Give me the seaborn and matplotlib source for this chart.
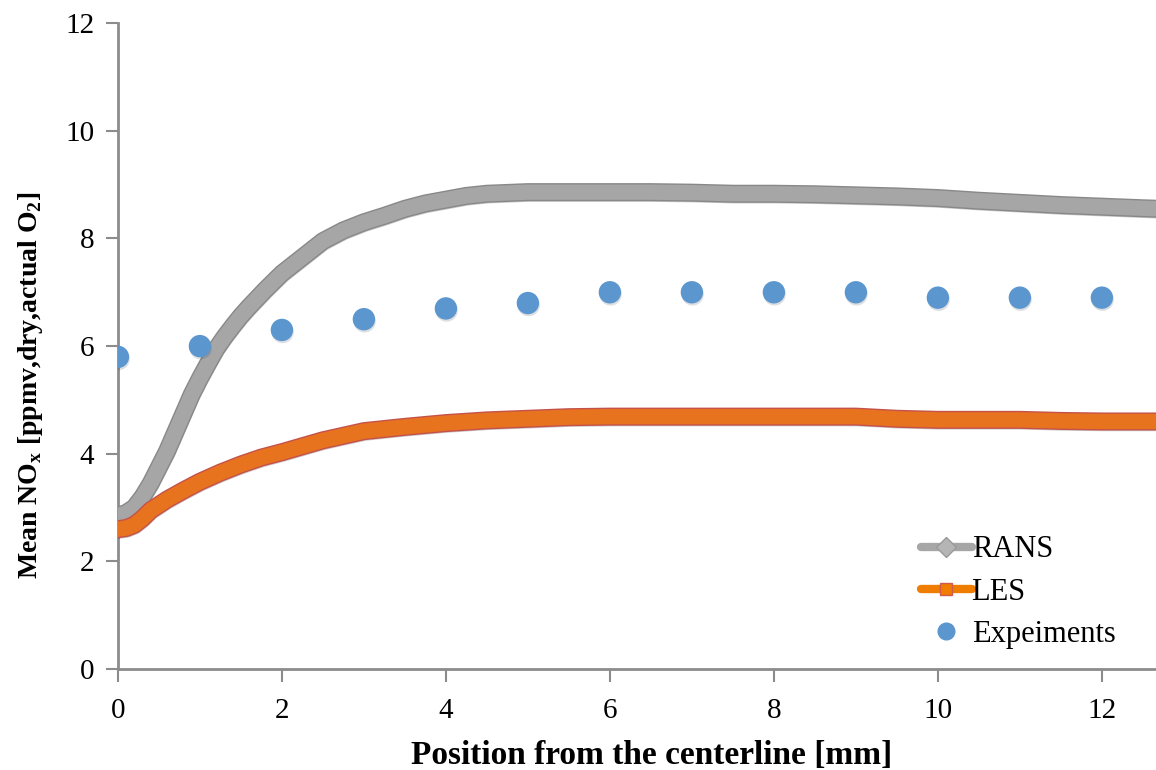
import matplotlib
matplotlib.use("Agg")
import matplotlib.pyplot as plt
import matplotlib.patheffects as pe
from matplotlib.lines import Line2D
import seaborn as sns
import pandas as pd

# RANS profile
rans_x = [0, 0.1, 0.2, 0.3, 0.4, 0.5, 0.6, 0.7, 0.8, 0.9, 1.0, 1.1, 1.2, 1.3,
          1.4, 1.5, 1.6, 1.8, 2.0, 2.25, 2.5, 2.75, 3.0, 3.25, 3.5, 3.75, 4.0,
          4.25, 4.5, 5.0, 5.5, 6.0, 6.5, 7.0, 7.5, 8.0, 8.5, 9.0, 9.5, 10.0,
          10.5, 11.0, 11.5, 12.0, 12.5, 12.7]
rans_y = [2.85, 2.9, 3.0, 3.2, 3.45, 3.75, 4.05, 4.4, 4.75, 5.1, 5.4, 5.68,
          5.95, 6.17, 6.37, 6.56, 6.73, 7.05, 7.35, 7.65, 7.95, 8.15, 8.3,
          8.42, 8.55, 8.65, 8.72, 8.79, 8.83, 8.86, 8.86, 8.86, 8.86, 8.85,
          8.83, 8.83, 8.82, 8.8, 8.78, 8.75, 8.7, 8.66, 8.62, 8.59, 8.56, 8.55]

# LES profile
les_x = [0, 0.1, 0.2, 0.3, 0.4, 0.6, 0.8, 1.0, 1.25, 1.5, 1.75, 2.0, 2.5, 3.0,
         3.5, 4.0, 4.5, 5.0, 5.5, 6.0, 6.5, 7.0, 7.5, 8.0, 8.5, 9.0, 9.5, 10.0,
         10.5, 11.0, 11.5, 12.0, 12.5, 12.7]
les_y = [2.6, 2.62, 2.68, 2.8, 2.95, 3.15, 3.32, 3.48, 3.65, 3.8, 3.93, 4.03,
         4.25, 4.42, 4.5, 4.57, 4.62, 4.65, 4.68, 4.69, 4.69, 4.69, 4.69, 4.69,
         4.69, 4.69, 4.65, 4.63, 4.63, 4.63, 4.61, 4.6, 4.6, 4.6]

# experimental points
exp_x = [0, 1, 2, 3, 4, 5, 6, 7, 8, 9, 10, 11, 12]
exp_y = [5.8, 6.0, 6.3, 6.5, 6.7, 6.8, 7.0, 7.0, 7.0, 7.0, 6.9, 6.9, 6.9]

sns.set_style("ticks")
plt.rcParams["font.family"] = ["Liberation Serif", "DejaVu Serif"]
plt.rcParams["mathtext.fontset"] = "custom"
plt.rcParams["mathtext.rm"] = "Liberation Serif"
plt.rcParams["mathtext.bf"] = "Liberation Serif:bold"
plt.rcParams["text.color"] = "black"
plt.rcParams["axes.labelcolor"] = "black"
plt.rcParams["xtick.labelcolor"] = "black"
plt.rcParams["ytick.labelcolor"] = "black"

axis_col = "#8c8c8c"
rans_col = "#a6a6a6"
les_col = "#e8731f"
exp_col = "#5b96cf"

fig = plt.figure(figsize=(11.56, 7.70), dpi=100)
ax = fig.add_axes([0.102, 0.131, 0.898, 0.839])

rans = pd.DataFrame({"x": rans_x, "y": rans_y})
sns.lineplot(data=rans, x="x", y="y", sort=False, ax=ax, color=rans_col,
             linewidth=11, solid_capstyle="round", solid_joinstyle="round",
             zorder=3,
             path_effects=[pe.SimpleLineShadow(offset=(0.5, -1.5), alpha=0.2),
                           pe.Stroke(linewidth=13, foreground="#888888"),
                           pe.Normal()])

les = pd.DataFrame({"x": les_x, "y": les_y})
sns.lineplot(data=les, x="x", y="y", sort=False, ax=ax, color=les_col,
             linewidth=11, solid_capstyle="round", solid_joinstyle="round",
             zorder=4,
             path_effects=[pe.SimpleLineShadow(offset=(0.5, -1.5), alpha=0.2),
                           pe.Stroke(linewidth=13, foreground="#c4524a"),
                           pe.Normal()])

exp = pd.DataFrame({"x": exp_x, "y": exp_y})
sns.scatterplot(data=exp, x="x", y="y", ax=ax, color=exp_col, s=260,
                linewidth=0, zorder=5,
                path_effects=[pe.SimplePatchShadow(offset=(0.5, -1.5), alpha=0.15),
                              pe.Normal()])

ax.set_xlim(0, 12.66)
ax.set_ylim(0, 12)
ax.set_xticks(range(0, 13, 2))
ax.set_yticks(range(0, 13, 2))
ax.tick_params(axis="both", direction="out", length=9, width=1.5,
               color=axis_col, labelcolor="black", labelsize=21, pad=8)
ax.tick_params(axis="x", pad=12)
for side in ["top", "right"]:
    ax.spines[side].set_visible(False)
for side in ["left", "bottom"]:
    ax.spines[side].set_color(axis_col)
    ax.spines[side].set_linewidth(2)

ax.set_xlabel("Position from the centerline [mm]", fontsize=24,
              fontweight="bold", color="black")
ax.xaxis.set_label_coords(0.514, -0.11)
ax.set_ylabel(r"Mean NO$_\mathbf{x}$ [ppmv,dry,actual O$_\mathbf{2}$]",
              fontsize=20, fontweight="bold", color="black")
ax.yaxis.set_label_coords(-0.07, 0.44)

handles = [
    Line2D([], [], color=rans_col, linewidth=6, solid_capstyle="round",
           marker="D", markersize=10, markerfacecolor="#b5b5b5",
           markeredgecolor="#999999"),
    Line2D([], [], color="#ef7d00", linewidth=6, solid_capstyle="round",
           marker="s", markersize=9, markerfacecolor="#f07c00",
           markeredgecolor="#d05a50"),
    Line2D([], [], linestyle="none", marker="o", markersize=12,
           markerfacecolor=exp_col, markeredgecolor=exp_col),
]
leg = ax.legend(handles, ["RANS", "LES", "Expeiments"], loc="lower left",
                bbox_to_anchor=(0.762, 0.012), frameon=False, fontsize=22,
                handlelength=1.65, handletextpad=0.0, labelspacing=0.44,
                borderaxespad=0)
for t in leg.get_texts():
    t.set_color("black")

fig.savefig("out.png", dpi=100)
